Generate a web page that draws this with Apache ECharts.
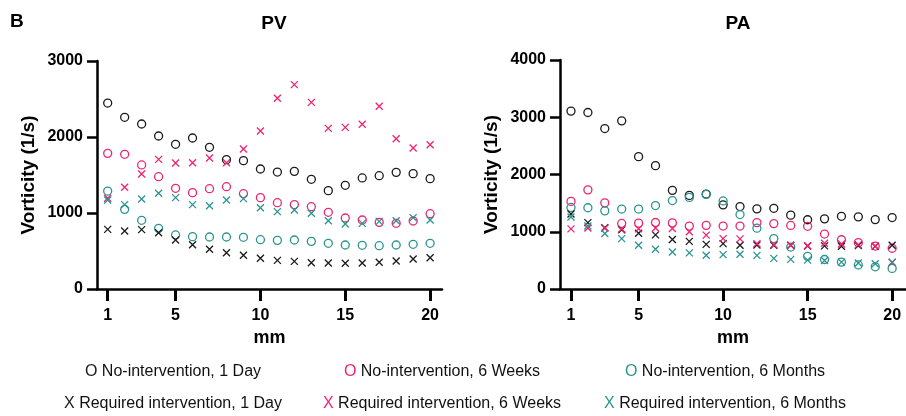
<!DOCTYPE html>
<html>
<head>
<meta charset="utf-8">
<script src="https://cdn.jsdelivr.net/npm/echarts@6/dist/echarts.min.js"></script>
<style>
html,body{margin:0;padding:0;background:#fff;}
#main{width:906px;height:416px;}
</style>
</head>
<body>
<div id="main"></div>
<script>
// ---------- DATA ----------
const mm = [1,2,3,4,5,6,7,8,9,10,11,12,13,14,15,16,17,18,19,20];
const xTicks = [1,5,10,15,20];

const pvNo1Day    = [2447,2259,2171,2013,1904,1987,1864,1702,1689,1579,1539,1548,1443,1294,1364,1461,1491,1535,1518,1452];
const pvNo6Weeks  = [1785,1772,1632,1478,1325,1268,1320,1346,1254,1202,1136,1110,1083,1009,934,908,877,864,895,991];
const pvNo6Months = [1289,1048,904,798,711,689,684,684,680,649,640,645,627,601,579,575,570,579,588,601];
const pvReq1Day    = [785,763,781,741,645,583,522,478,443,404,377,364,346,342,338,342,351,368,395,412];
const pvReq6Weeks  = [1193,1338,1513,1706,1658,1662,1724,1662,1842,2079,2509,2689,2456,2114,2127,2167,2404,1978,1855,1899];
const pvReq6Months = [1171,1110,1184,1259,1202,1110,1096,1171,1189,1070,1018,1039,996,899,855,864,890,899,939,908];

const paNo1Day    = [3107,3083,2803,2937,2312,2155,1723,1635,1658,1470,1440,1400,1410,1290,1210,1225,1270,1260,1212,1248];
const paNo6Weeks  = [1530,1732,1505,1145,1150,1162,1155,1100,1112,1100,1100,1160,1142,1110,1095,960,860,810,750,712];
const paNo6Months = [1425,1419,1365,1396,1396,1457,1545,1600,1652,1538,1300,1062,880,733,570,515,470,420,388,360];
const paReq1Day    = [1310,1160,1072,1035,975,946,864,832,780,792,765,768,765,765,750,753,748,758,745,765];
const paReq6Weeks  = [1050,1066,1060,1048,1052,1065,1058,999,941,880,876,790,775,765,755,800,785,775,752,462];
const paReq6Months = [1258,1100,970,880,765,695,645,631,590,600,606,588,535,518,505,498,470,455,440,470];

const seriesNames = [
  'No-intervention, 1 Day', 'No-intervention, 6 Weeks', 'No-intervention, 6 Months',
  'Required intervention, 1 Day', 'Required intervention, 6 Weeks', 'Required intervention, 6 Months'
];
const seriesColors = ['#1a1a1a', '#ef2470', '#2a9490', '#1a1a1a', '#ef2470', '#2a9490'];
const seriesMarks = ['O', 'O', 'O', 'X', 'X', 'X'];

const panelTitles = ['PV', 'PA'];
const yMax = [3000, 4000];
const yName = 'Vorticity (1/s)';
const xName = 'mm';

// ---------- BUILD ----------
const FONT = 'Liberation Sans, Arial, Helvetica, sans-serif';
const pvSets = [pvNo1Day, pvNo6Weeks, pvNo6Months, pvReq1Day, pvReq6Weeks, pvReq6Months];
const paSets = [paNo1Day, paNo6Weeks, paNo6Months, paReq1Day, paReq6Weeks, paReq6Months];

const grids = [
  {left: 97, top: 61, width: 345, height: 228},
  {left: 560, top: 60, width: 346, height: 229}
];
const xRanges = [[0.37, 20.7], [0.35, 20.82]];

function xAxis(i) {
  return {
    type: 'value', gridIndex: i, min: xRanges[i][0], max: xRanges[i][1],
    name: xName, nameLocation: 'middle', nameGap: 40,
    nameTextStyle: {fontFamily: FONT, fontWeight: 'bold', fontSize: 18, color: '#000'},
    axisLine: {show: true, onZero: false, lineStyle: {color: '#000', width: 2.5}},
    axisTick: {show: true, inside: false, length: 12, lineStyle: {color: '#000', width: 3}, customValues: xTicks},
    axisLabel: {fontFamily: FONT, fontWeight: 'bold', fontSize: 16, color: '#000', margin: 19, customValues: xTicks},
    splitLine: {show: false}
  };
}
function yAxis(i) {
  return {
    type: 'value', gridIndex: i, min: 0, max: yMax[i], interval: 1000,
    name: yName, nameLocation: 'middle', nameGap: 59,
    nameTextStyle: {fontFamily: FONT, fontWeight: 'bold', fontSize: 19, color: '#000'},
    axisLine: {show: true, lineStyle: {color: '#000', width: 2.5}},
    axisTick: {show: true, inside: false, length: 10, lineStyle: {color: '#000', width: 2.5}},
    axisLabel: {fontFamily: FONT, fontWeight: 'bold', fontSize: 16, color: '#000', margin: 14,
                formatter: v => String(v)},
    splitLine: {show: false}
  };
}

const X_PATH = 'path://M0 0L10 10M10 0L0 10';
const series = [];
[pvSets, paSets].forEach((sets, gi) => {
  sets.forEach((vals, si) => {
    const isX = seriesMarks[si] === 'X';
    series.push({
      type: 'scatter', name: seriesNames[si], xAxisIndex: gi, yAxisIndex: gi,
      data: mm.map((m, k) => [m, vals[k]]),
      symbol: isX ? X_PATH : 'circle',
      symbolSize: isX ? 7 : 8,
      itemStyle: {color: 'rgba(0,0,0,0)', borderColor: seriesColors[si], borderWidth: 1.3, opacity: 1},
      emphasis: {disabled: true},
      z: 2 + si
    });
  });
});

const legendCenters = [173, 442, 725];
const legendRows = [372, 404];
const graphics = seriesNames.map((n, si) => ({
  type: 'text',
  x: legendCenters[si % 3], y: legendRows[Math.floor(si / 3)],
  style: {
    text: '{m|' + seriesMarks[si] + '} ' + n,
    font: '16px ' + FONT, fill: '#111',
    align: 'center', verticalAlign: 'middle',
    rich: {m: {fill: seriesColors[si], font: '16px ' + FONT}}
  }
}));
graphics.push({
  type: 'text', x: 10, y: 22,
  style: {text: 'B', font: 'bold 19px ' + FONT, fill: '#000', verticalAlign: 'middle'}
});

const option = {
  animation: false,
  backgroundColor: '#fff',
  title: [
    {text: panelTitles[0], left: 269, top: 9, textAlign: 'center',
     textStyle: {fontFamily: FONT, fontWeight: 'bold', fontSize: 19, color: '#000'}},
    {text: panelTitles[1], left: 733, top: 9, textAlign: 'center',
     textStyle: {fontFamily: FONT, fontWeight: 'bold', fontSize: 19, color: '#000'}}
  ],
  grid: grids,
  xAxis: [xAxis(0), xAxis(1)],
  yAxis: [yAxis(0), yAxis(1)],
  series: series,
  graphic: graphics
};

const chart = echarts.init(document.getElementById('main'), null, {renderer: 'canvas'});
chart.setOption(option);
</script>
</body>
</html>
